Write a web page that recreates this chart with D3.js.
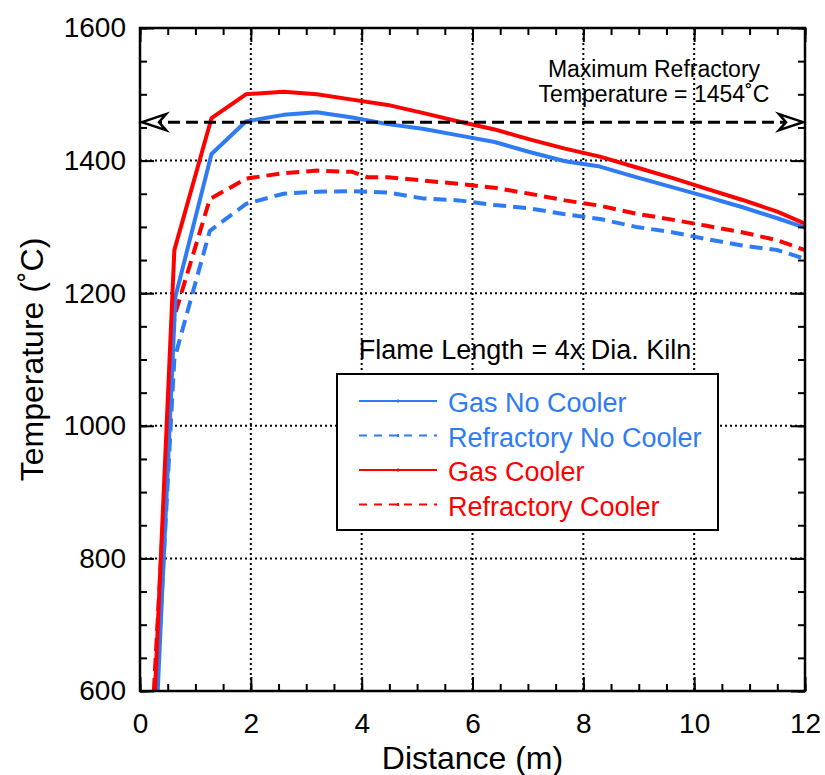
<!DOCTYPE html>
<html>
<head>
<meta charset="utf-8">
<script src="https://cdn.jsdelivr.net/npm/d3@7"></script>
<style>
  html, body { margin: 0; padding: 0; background: #fff; }
  svg { display: block; font-family: "Liberation Sans", Arial, Helvetica, sans-serif; }
</style>
</head>
<body>
<svg id="chart" width="825" height="775"></svg>
<script>
// ---------------- DATA ----------------
const gasCoolerX = [0.27, 0.62, 1.29, 1.91, 2.59, 3.19, 3.83, 4.47, 5.1, 5.75, 6.4, 7.03, 7.67, 8.3, 8.95, 9.6, 10.2, 10.86, 11.5, 12.0];
const gasCoolerY = [600, 1265, 1464, 1500, 1504, 1500, 1492, 1484, 1472, 1459, 1447, 1432, 1418, 1406, 1390, 1374, 1358, 1341, 1323, 1305];

const gasNoCoolerX = [0.32, 0.64, 1.29, 1.91, 2.59, 3.19, 3.83, 4.47, 5.1, 5.75, 6.4, 7.03, 7.67, 8.3, 8.95, 9.6, 10.2, 10.86, 11.5, 12.0];
const gasNoCoolerY = [600, 1195, 1410, 1459, 1469, 1473, 1465, 1455, 1448, 1438, 1428, 1413, 1399, 1391, 1375, 1360, 1346, 1330, 1313, 1299];

const refCoolerX = [0.25, 0.62, 1.26, 1.92, 2.59, 3.19, 3.83, 4.1, 4.47, 5.1, 5.75, 6.4, 7.03, 7.67, 8.3, 8.95, 9.6, 10.2, 10.86, 11.5, 12.0];
const refCoolerY = [600, 1165, 1342, 1373, 1381, 1385, 1383, 1375, 1375, 1370, 1365, 1359, 1350, 1340, 1332, 1320, 1311, 1302, 1292, 1280, 1265];

const refNoCoolerX = [0.30, 0.58, 0.62, 0.70, 1.26, 1.92, 2.59, 3.19, 3.83, 4.47, 5.1, 5.75, 6.4, 7.03, 7.67, 8.3, 8.95, 9.6, 10.2, 10.86, 11.5, 12.0];
const refNoCoolerY = [600, 1040, 1100, 1125, 1294, 1335, 1350, 1353, 1354, 1352, 1343, 1340, 1333, 1328, 1319, 1312, 1300, 1292, 1282, 1272, 1265, 1252];

const seriesNames = ["Gas No Cooler", "Refractory No Cooler", "Gas Cooler", "Refractory Cooler"];
const xTickValues = [0, 2, 4, 6, 8, 10, 12];
const yTickValues = [600, 800, 1000, 1200, 1400, 1600];
const maxRefractoryLineY = 1458;
const annotationLines = ["Maximum Refractory", "Temperature = 1454˚C"];
const flameLabel = "Flame Length = 4x Dia. Kiln";
const xTitle = "Distance (m)";
const yTitle = "Temperature (˚C)";

// ---------------- STYLE ----------------
const BLUE = "#2f7bf5";
const RED = "#ff0000";
const styles = [
  { color: BLUE, dash: null },
  { color: BLUE, dash: "13,7" },
  { color: RED, dash: null },
  { color: RED, dash: "13,7" }
];
const seriesData = [
  gasNoCoolerX.map((x, i) => [x, gasNoCoolerY[i]]),
  refNoCoolerX.map((x, i) => [x, refNoCoolerY[i]]),
  gasCoolerX.map((x, i) => [x, gasCoolerY[i]]),
  refCoolerX.map((x, i) => [x, refCoolerY[i]])
];

// ---------------- LAYOUT ----------------
const L = 140, R = 805, T = 28, B = 691;
const svg = d3.select("#chart");
const x = d3.scaleLinear().domain([0, 12]).range([L, R]);
const y = d3.scaleLinear().domain([600, 1600]).range([B, T]);

svg.append("defs").append("clipPath").attr("id", "plotClip")
  .append("rect").attr("x", L).attr("y", T).attr("width", R - L).attr("height", B - T);

// gridlines (dotted)
const grid = svg.append("g").attr("stroke", "#000").attr("stroke-width", 2).attr("stroke-dasharray", "2,3");
grid.selectAll("line.vx").data(xTickValues.filter(v => v > 0 && v < 12)).join("line")
  .attr("x1", d => x(d)).attr("x2", d => x(d)).attr("y1", T).attr("y2", B);
grid.selectAll("line.hy").data(yTickValues.filter(v => v > 600 && v < 1600)).join("line")
  .attr("x1", L).attr("x2", R).attr("y1", d => y(d)).attr("y2", d => y(d));

// data lines
const line = d3.line().x(d => x(d[0])).y(d => y(d[1]));
const plot = svg.append("g").attr("clip-path", "url(#plotClip)");
[1, 3, 0, 2].forEach(i => {
  plot.append("path").datum(seriesData[i])
    .attr("d", line)
    .attr("fill", "none")
    .attr("stroke", styles[i].color)
    .attr("stroke-width", 4)
    .attr("stroke-linejoin", "round")
    .attr("stroke-dasharray", styles[i].dash);
});

// max refractory dashed line with open arrows
const yMax = y(maxRefractoryLineY);
svg.append("line").attr("x1", L + 10).attr("x2", R - 10).attr("y1", yMax).attr("y2", yMax)
  .attr("stroke", "#000").attr("stroke-width", 3).attr("stroke-dasharray", "12,6");
function arrow(tipX, dir) {
  const p = d3.path();
  p.moveTo(tipX, yMax);
  p.lineTo(tipX + dir * 24, yMax - 8);
  p.lineTo(tipX + dir * 17, yMax);
  p.lineTo(tipX + dir * 24, yMax + 8);
  p.closePath();
  svg.append("path").attr("d", p.toString()).attr("fill", "#fff")
    .attr("stroke", "#000").attr("stroke-width", 2.5).attr("stroke-linejoin", "miter");
}
arrow(L + 2, 1);
arrow(R - 2, -1);

// axes
function styleAxis(g, keepLabels) {
  g.select(".domain").remove();
  g.selectAll(".tick line").attr("stroke", "#000").attr("stroke-width", 2);
  if (!keepLabels) g.selectAll(".tick text").remove();
  else g.selectAll(".tick text").attr("fill", "#000").attr("font-size", 28)
    .attr("font-family", "Liberation Sans, Arial, sans-serif");
}
const xMinor = d3.range(0, 12.001, 0.5);
const yMinor = d3.range(600, 1600.001, 50);

svg.append("g").attr("transform", `translate(0,${B})`)
  .call(d3.axisBottom(x).tickValues(xMinor).tickSize(-7).tickFormat(""))
  .call(g => styleAxis(g, false));
svg.append("g").attr("transform", `translate(0,${T})`)
  .call(d3.axisTop(x).tickValues(xMinor).tickSize(-7).tickFormat(""))
  .call(g => styleAxis(g, false));
svg.append("g").attr("transform", `translate(${L},0)`)
  .call(d3.axisLeft(y).tickValues(yMinor).tickSize(-7).tickFormat(""))
  .call(g => styleAxis(g, false));
svg.append("g").attr("transform", `translate(${R},0)`)
  .call(d3.axisRight(y).tickValues(yMinor).tickSize(-7).tickFormat(""))
  .call(g => styleAxis(g, false));

svg.append("g").attr("transform", `translate(0,${B})`)
  .call(d3.axisBottom(x).tickValues(xTickValues).tickSize(-14).tickPadding(22).tickFormat(d3.format("d")))
  .call(g => styleAxis(g, true));
svg.append("g").attr("transform", `translate(0,${T})`)
  .call(d3.axisTop(x).tickValues(xTickValues).tickSize(-14).tickFormat(""))
  .call(g => styleAxis(g, false));
svg.append("g").attr("transform", `translate(${L},0)`)
  .call(d3.axisLeft(y).tickValues(yTickValues).tickSize(-14).tickPadding(14).tickFormat(d3.format("d")))
  .call(g => styleAxis(g, true));
svg.append("g").attr("transform", `translate(${R},0)`)
  .call(d3.axisRight(y).tickValues(yTickValues).tickSize(-14).tickFormat(""))
  .call(g => styleAxis(g, false));

// frame
svg.append("rect").attr("x", L).attr("y", T).attr("width", R - L).attr("height", B - T)
  .attr("fill", "none").attr("stroke", "#000").attr("stroke-width", 2.5);

// axis titles
svg.append("text").attr("x", (L + R) / 2).attr("y", 769).attr("text-anchor", "middle")
  .attr("font-size", 32).attr("fill", "#000").text(xTitle);
svg.append("text").attr("transform", `translate(43,${(T + B) / 2}) rotate(-90)`)
  .attr("text-anchor", "middle").attr("font-size", 32).attr("fill", "#000").text(yTitle);

// annotation
svg.append("text").attr("x", 654).attr("y", 77).attr("text-anchor", "middle")
  .attr("font-size", 23).attr("fill", "#000").text(annotationLines[0]);
svg.append("text").attr("x", 654).attr("y", 102).attr("text-anchor", "middle")
  .attr("font-size", 23).attr("fill", "#000").text(annotationLines[1]);

svg.append("text").attr("x", 525).attr("y", 359).attr("text-anchor", "middle")
  .attr("font-size", 27).attr("fill", "#000").text(flameLabel);

// legend
const lg = svg.append("g");
lg.append("rect").attr("x", 337).attr("y", 374).attr("width", 381).attr("height", 156)
  .attr("fill", "#fff").attr("stroke", "#000").attr("stroke-width", 2);
const rowY = [401, 435.5, 470, 504.5];
seriesNames.forEach((name, i) => {
  lg.append("line").attr("x1", 359).attr("x2", 437).attr("y1", rowY[i]).attr("y2", rowY[i])
    .attr("stroke", styles[i].color).attr("stroke-width", 2)
    .attr("stroke-dasharray", styles[i].dash ? "8,7" : null);
  lg.append("rect").attr("x", 397).attr("y", rowY[i] - 1.5).attr("width", 2).attr("height", 3)
    .attr("fill", styles[i].color);
  lg.append("text").attr("x", 448).attr("y", rowY[i] + 11).attr("font-size", 27)
    .attr("fill", styles[i].color).text(name);
});
</script>
</body>
</html>
